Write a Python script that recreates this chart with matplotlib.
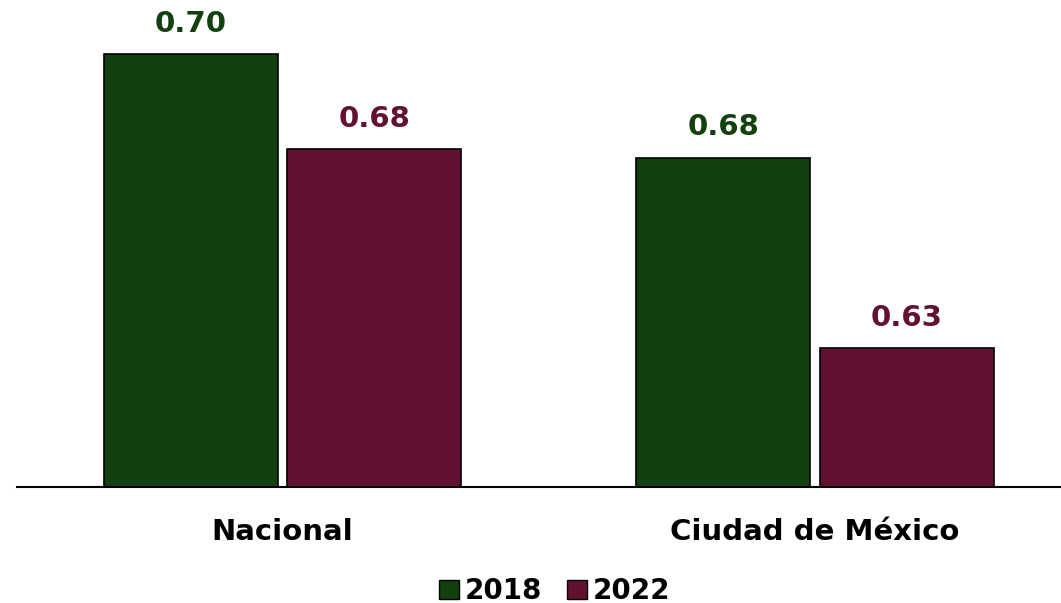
import matplotlib
matplotlib.use("Agg")
import matplotlib.pyplot as plt
import numpy as np
from matplotlib.patches import Patch

categories = ["Nacional", "Ciudad de México"]
series_names = ["2018", "2022"]
values_2018 = [0.700, 0.676]
values_2022 = [0.678, 0.632]
colors = ["#12400f", "#621132"]

plt.rcParams['font.family'] = ['DejaVu Sans']

fig = plt.figure(figsize=(10.61, 6.03), dpi=100)
ax = fig.add_axes([17/1061, 1 - 487/603, (1061-17)/1061, 487/603])

x = np.arange(len(categories))
w = 0.327
gap = 0.017
for i, (vals, c, name) in enumerate(zip([values_2018, values_2022], colors, series_names)):
    pos = x + (i - 0.5) * (w + gap)
    ax.bar(pos, vals, width=w, color=c, edgecolor="black", linewidth=1.2, label=name)
    for p, v in zip(pos, vals):
        ax.text(p, v + 0.0038, f"{v:.2f}", ha="center", va="bottom", color=c,
                fontsize=21, fontweight="bold")

ax.set_ylim(0.6, 0.6 + 487/4330)
ax.set_xlim(-0.4986, 1.462)
ax.set_yticks([])
ax.set_xticks(x)
ax.set_xticklabels(categories, fontsize=21, fontweight="bold")
ax.tick_params(axis="x", length=0, pad=22)
for s in ["top", "right", "left"]:
    ax.spines[s].set_visible(False)
ax.spines["bottom"].set_linewidth(1.5)

handles = [Patch(facecolor=c, edgecolor="black", label=n) for c, n in zip(colors, series_names)]
fig.legend(handles=handles, loc="lower center", bbox_to_anchor=(0.523, -0.045), ncol=2,
           frameon=False, prop={"size": 20, "weight": "bold"}, handlelength=0.72,
           handleheight=0.72, handletextpad=0.2, columnspacing=0.9)

fig.savefig("out.png", dpi=100)
